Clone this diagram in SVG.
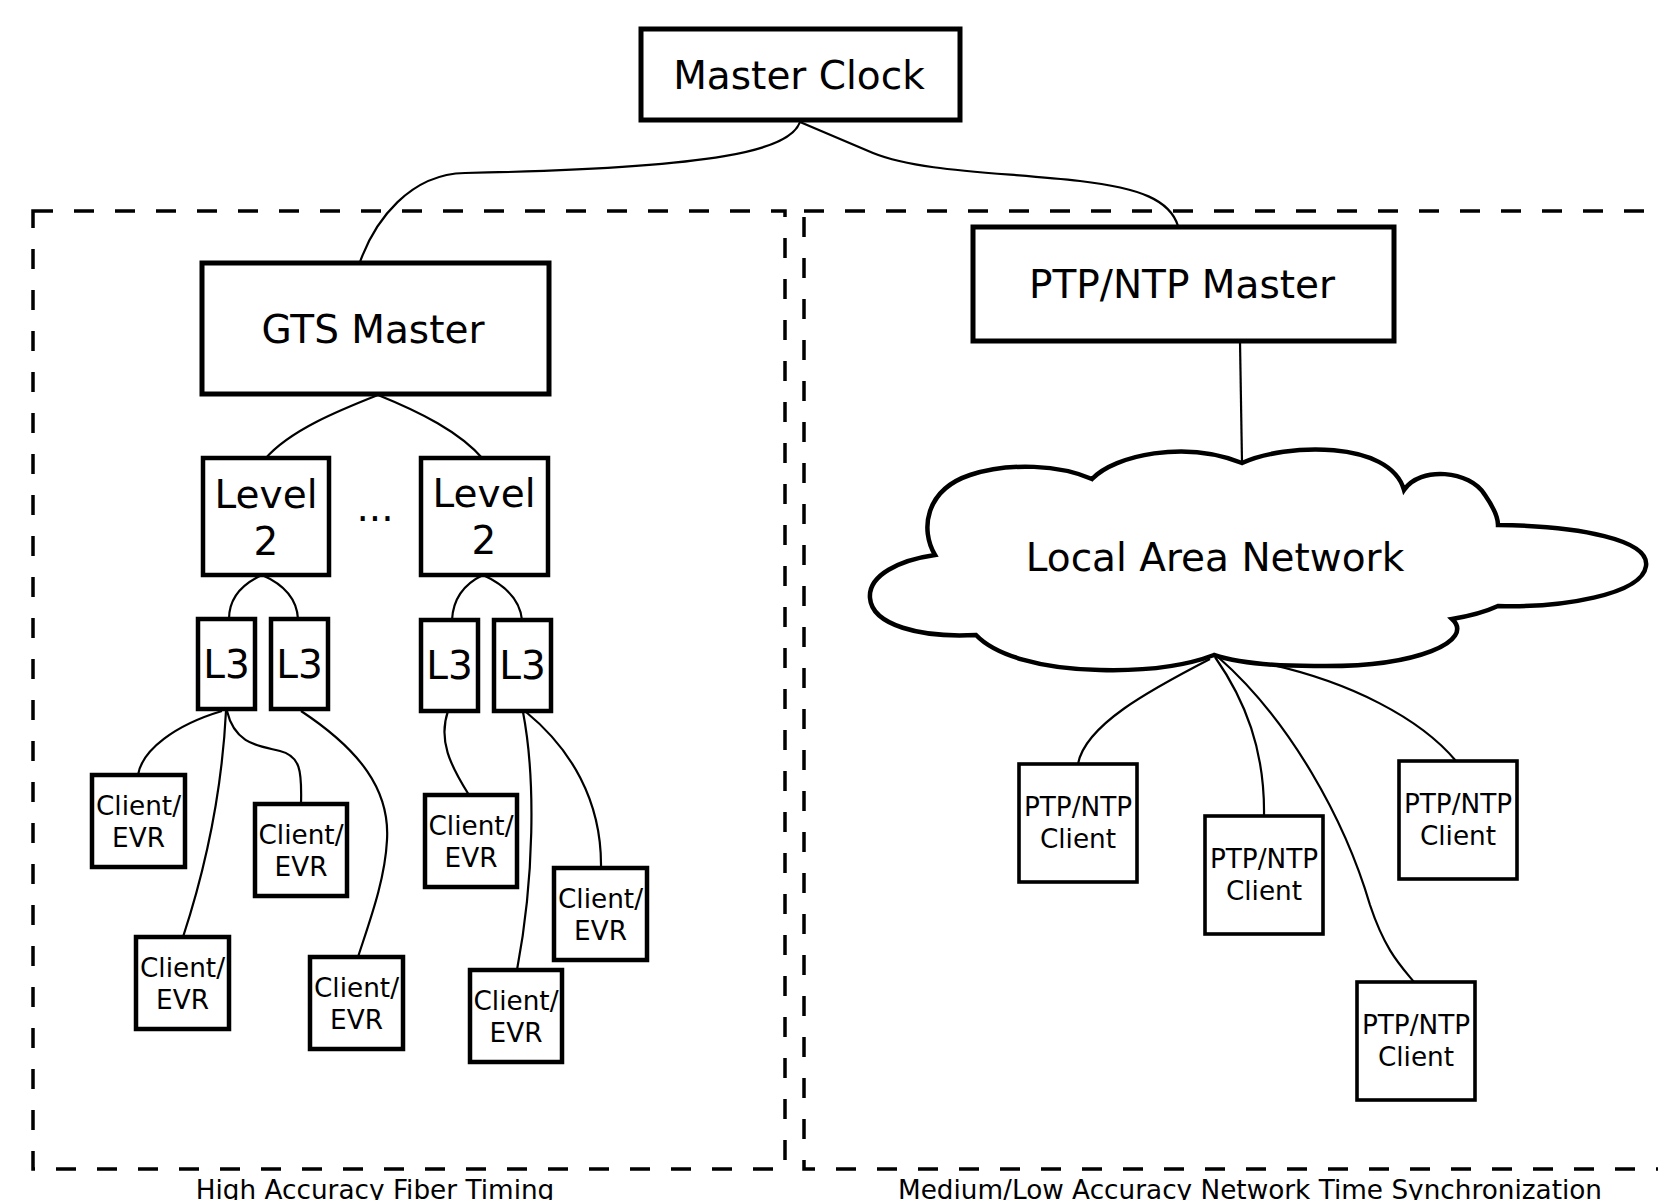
<svg xmlns="http://www.w3.org/2000/svg" width="1658" height="1200" viewBox="0 0 1658 1200">
<style>
  text { font-family: "DejaVu Sans", "Liberation Sans", sans-serif; fill: #000; text-anchor: middle; }
  .big { font-size: 39px; }
  .mid { font-size: 39px; }
  .sm { font-size: 26.3px; }
  .box { fill: #fff; stroke: #000; stroke-width: 5; }
  .bx2 { fill: #fff; stroke: #000; stroke-width: 4.5; }
  .bx3 { fill: #fff; stroke: #000; stroke-width: 3.6; }
  .dash { fill: none; stroke: #000; stroke-width: 3.5; stroke-dasharray: 20 21; }
  .conn path { fill: none; stroke: #000; stroke-width: 2.2; }
</style>
<rect x="0" y="0" width="1658" height="1200" fill="#fff"/>

<g id="regions">
  <rect class="dash" x="33" y="211" width="752" height="958"/>
  <rect class="dash" x="804" y="211" width="900" height="958"/>
  <text class="sm" x="375" y="1199">High Accuracy Fiber Timing</text>
  <text class="sm" x="1250" y="1199">Medium/Low Accuracy Network Time Synchronization</text>
</g>

<g id="connectors" class="conn">
  <path d="M 800 122 C 790 150 720 168 465 173 C 410 174 375 220 360 262"/>
  <path d="M 800 122 L 873 153 C 920 172 1000 172 1080 181 C 1140 188 1170 200 1178 226"/>
  <path d="M 378 395 C 340 410 290 430 265 459"/>
  <path d="M 378 395 C 420 412 460 432 483 459"/>
  <path d="M 262 575 C 240 585 229 600 229 619"/>
  <path d="M 262 575 C 285 585 297 600 298 619"/>
  <path d="M 483 575 C 462 585 453 600 452 620"/>
  <path d="M 483 575 C 505 585 520 600 522 620"/>
  <path d="M 222 711 C 175 725 142 750 138 775"/>
  <path d="M 226 711 C 222 790 205 870 183 937"/>
  <path d="M 227 711 C 235 745 260 746 280 751 C 300 756 302 770 301 804"/>
  <path d="M 301 711 C 360 750 390 790 387 840 C 385 880 370 920 358 957"/>
  <path d="M 448 711 C 438 740 450 765 469 795"/>
  <path d="M 523 712 C 536 780 534 880 517 970"/>
  <path d="M 526 712 C 570 748 602 800 601 868"/>
  <path d="M 1240 341 L 1242 463"/>
  <path d="M 1210 659 C 1150 690 1085 725 1078 764"/>
  <path d="M 1215 657 C 1245 700 1265 750 1264 816"/>
  <path d="M 1218 657 C 1290 720 1345 820 1370 905 C 1385 950 1400 965 1414 982"/>
  <path d="M 1268 664 C 1350 682 1420 718 1456 761"/>
</g>

<g id="master-clock">
  <rect class="box" x="641" y="29" width="319" height="91"/>
  <text class="big" x="799" y="89">Master Clock</text>
</g>

<g id="gts-master">
  <rect class="box" x="202" y="263" width="347" height="131"/>
  <text class="big" x="373" y="343">GTS Master</text>
</g>

<g id="ptp-master">
  <rect class="box" x="973" y="227" width="421" height="114"/>
  <text class="mid" x="1182" y="298">PTP/NTP Master</text>
</g>

<g id="level2-a">
  <rect class="bx2" x="203" y="458" width="126" height="117"/>
  <text class="big" x="266" y="508">Level</text>
  <text class="big" x="266" y="555">2</text>
</g>
<g id="ellipsis">
  <text class="big" x="375" y="521">...</text>
</g>
<g id="level2-b">
  <rect class="bx2" x="421" y="458" width="127" height="117"/>
  <text class="big" x="484" y="507">Level</text>
  <text class="big" x="484" y="554">2</text>
</g>

<g id="l3-a">
  <rect class="bx2" x="198" y="619" width="57" height="90"/>
  <text class="mid" x="226.5" y="678">L3</text>
</g>
<g id="l3-b">
  <rect class="bx2" x="271" y="619" width="57" height="90"/>
  <text class="mid" x="299.5" y="678">L3</text>
</g>
<g id="l3-c">
  <rect class="bx2" x="421" y="620" width="57" height="91"/>
  <text class="mid" x="449.5" y="679">L3</text>
</g>
<g id="l3-d">
  <rect class="bx2" x="494" y="620" width="57" height="91"/>
  <text class="mid" x="522.5" y="679">L3</text>
</g>

<g id="client-a">
  <rect class="bx2" x="92" y="775" width="93" height="92"/>
  <text class="sm" x="138.5" y="814.5">Client/</text>
  <text class="sm" x="138.5" y="847">EVR</text>
</g>
<g id="client-b">
  <rect class="bx2" x="136" y="937" width="93" height="92"/>
  <text class="sm" x="182.5" y="976.5">Client/</text>
  <text class="sm" x="182.5" y="1009">EVR</text>
</g>
<g id="client-c">
  <rect class="bx2" x="255" y="804" width="92" height="92"/>
  <text class="sm" x="301" y="843.5">Client/</text>
  <text class="sm" x="301" y="876">EVR</text>
</g>
<g id="client-d">
  <rect class="bx2" x="310" y="957" width="93" height="92"/>
  <text class="sm" x="356.5" y="996.5">Client/</text>
  <text class="sm" x="356.5" y="1029">EVR</text>
</g>
<g id="client-e">
  <rect class="bx2" x="425" y="795" width="92" height="92"/>
  <text class="sm" x="471" y="834.5">Client/</text>
  <text class="sm" x="471" y="867">EVR</text>
</g>
<g id="client-f">
  <rect class="bx2" x="470" y="970" width="92" height="92"/>
  <text class="sm" x="516" y="1009.5">Client/</text>
  <text class="sm" x="516" y="1042">EVR</text>
</g>
<g id="client-g">
  <rect class="bx2" x="554" y="868" width="93" height="92"/>
  <text class="sm" x="600.5" y="907.5">Client/</text>
  <text class="sm" x="600.5" y="940">EVR</text>
</g>

<g id="lan">
  <path fill="#fff" stroke="#000" stroke-width="4.5" d="M 1242 463 C 1285 443 1390 440 1404 490 C 1420 466 1470 470 1485 495 C 1494 508 1498 518 1498 525 C 1580 526 1650 540 1646 566 C 1642 595 1560 608 1498 606 C 1485 612 1470 616 1452 619 C 1475 640 1420 668 1314 666 C 1270 666 1235 662 1214 655 C 1180 668 1140 671 1100 670 C 1040 669 995 655 976 635 C 920 638 872 625 870 598 C 868 575 900 560 935 555 C 920 530 925 490 970 475 C 1010 462 1060 465 1092 479 C 1115 455 1185 440 1242 463 Z"/>
  <text class="big" x="1215" y="571">Local Area Network</text>
</g>

<g id="ptp-client-1">
  <rect class="bx3" x="1019" y="764" width="118" height="118"/>
  <text class="sm" x="1078" y="816">PTP/NTP</text>
  <text class="sm" x="1078" y="848">Client</text>
</g>
<g id="ptp-client-2">
  <rect class="bx3" x="1205" y="816" width="118" height="118"/>
  <text class="sm" x="1264" y="868">PTP/NTP</text>
  <text class="sm" x="1264" y="900">Client</text>
</g>
<g id="ptp-client-3">
  <rect class="bx3" x="1399" y="761" width="118" height="118"/>
  <text class="sm" x="1458" y="813">PTP/NTP</text>
  <text class="sm" x="1458" y="845">Client</text>
</g>
<g id="ptp-client-4">
  <rect class="bx3" x="1357" y="982" width="118" height="118"/>
  <text class="sm" x="1416" y="1034">PTP/NTP</text>
  <text class="sm" x="1416" y="1066">Client</text>
</g>
</svg>
